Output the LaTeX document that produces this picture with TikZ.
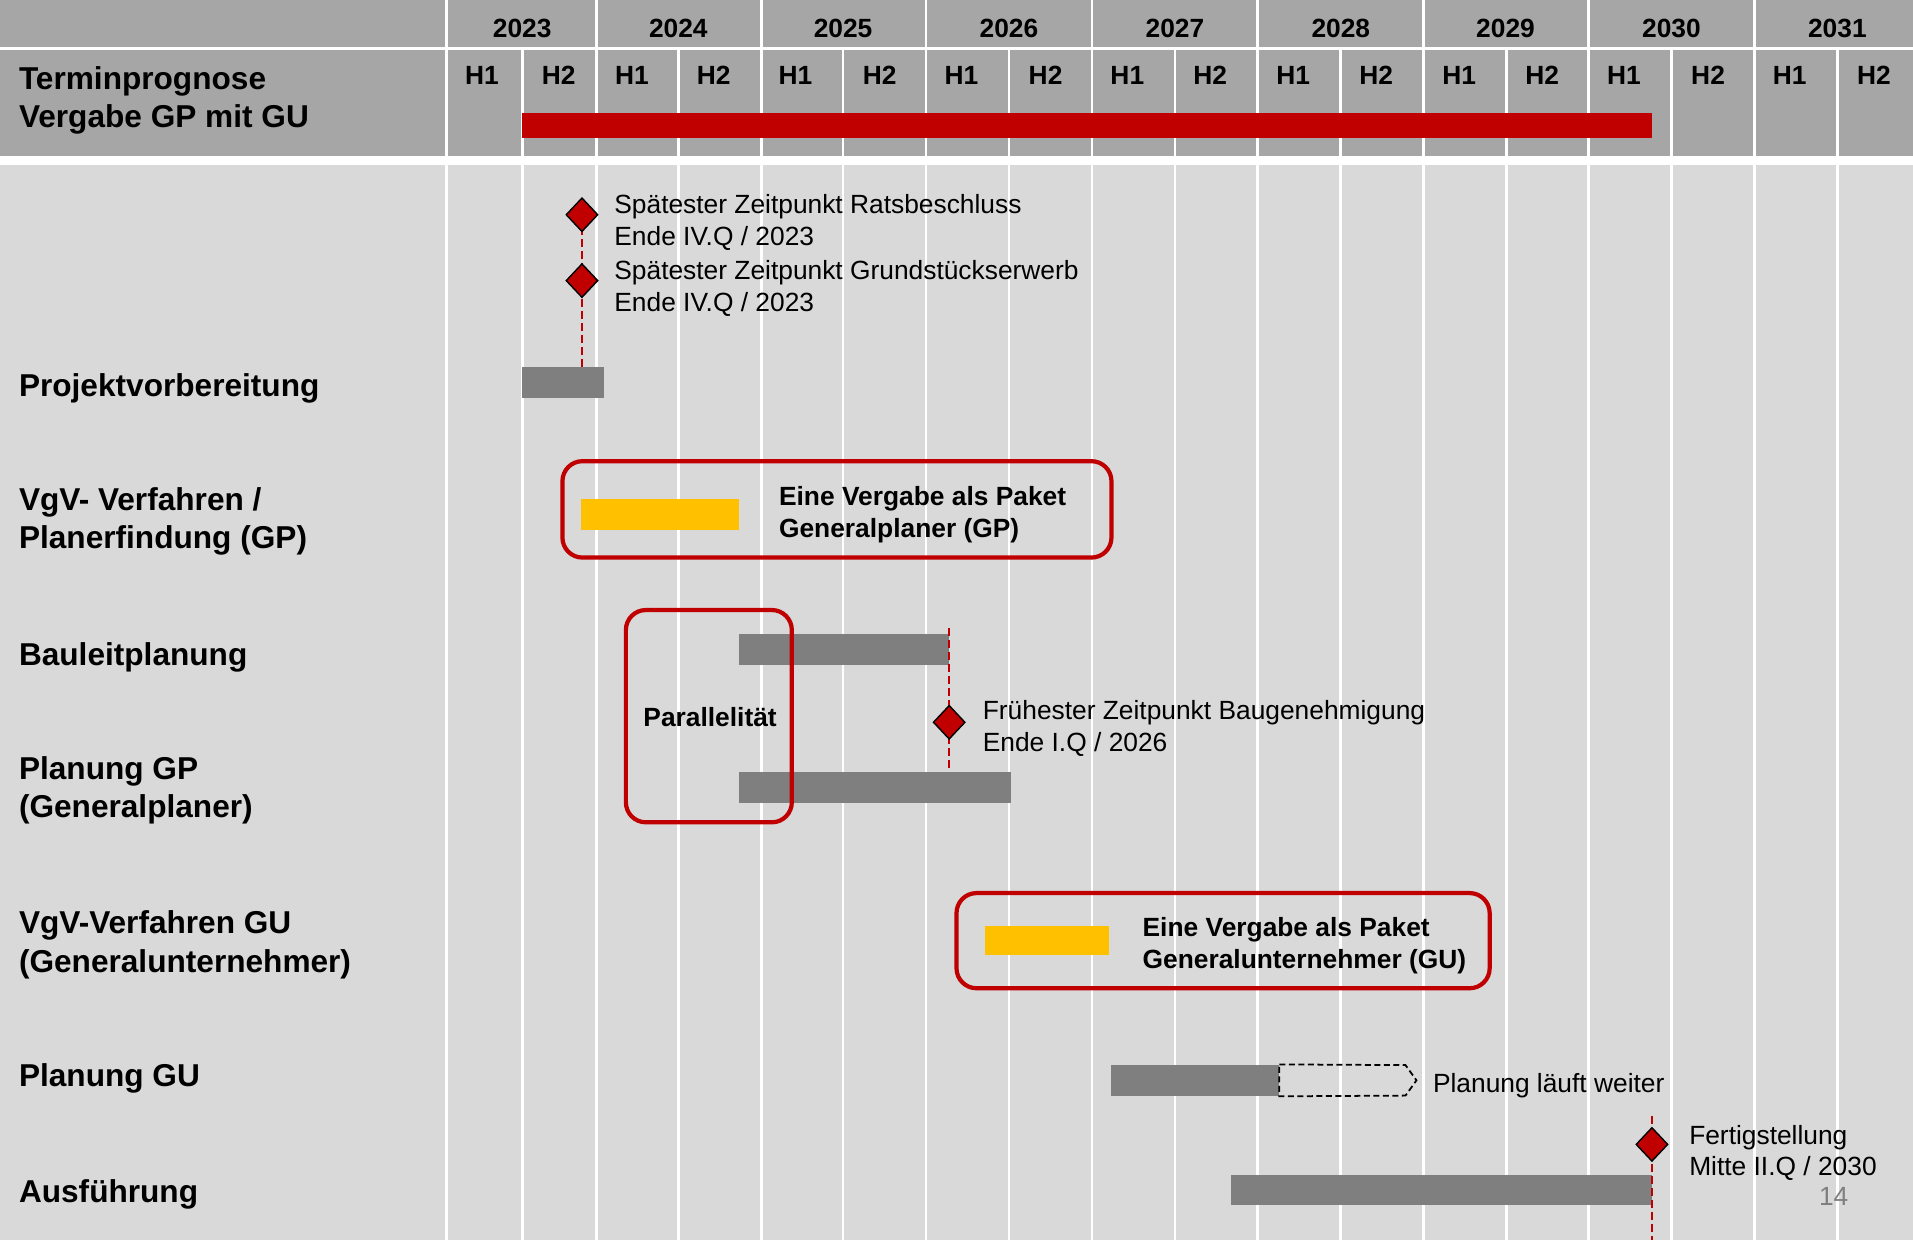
\documentclass[tikz,border=0pt]{standalone}
\usepackage{fontspec}
\setmainfont{Liberation Sans}
\usetikzlibrary{shapes.geometric,fit}

\definecolor{headgray}{HTML}{A6A6A6}
\definecolor{bodygray}{HTML}{D9D9D9}
\definecolor{bargray}{HTML}{7F7F7F}
\definecolor{darkred}{HTML}{C00000}
\definecolor{gold}{HTML}{FFC000}

\tikzset{
  rowlabel/.style={anchor=west, inner sep=0pt, align=left, font=\bfseries\fontsize{9}{10.9}\selectfont},
  note/.style={anchor=west, inner sep=0pt, align=left, font=\fontsize{7.5}{9.1}\selectfont},
  boxnote/.style={note, font=\bfseries\fontsize{7.5}{9.1}\selectfont},
  headlabel/.style={inner sep=0pt, font=\bfseries\fontsize{7.5}{9}\selectfont},
  graybar/.style={fill=bargray, inner sep=0pt},
  goldbar/.style={fill=gold, inner sep=0pt},
  redbox/.style={draw=darkred, line width=1.2pt, rounded corners=2mm, inner sep=0pt},
  milestone/.style={diamond, draw=black, line width=0.4pt, fill=darkred, inner sep=0pt,
    minimum width=3.2mm, minimum height=3.4mm},
  msline/.style={darkred, line width=0.6pt, dash pattern=on 0.8mm off 0.4mm},
  gridline/.style={white, line width=0.8pt},
}

\begin{document}
\begin{tikzpicture}[x=0.0122cm, y=-0.0122cm]
  \useasboundingbox (0,0) rectangle (1568,1016);
  % raster
  \fill[white] (0,0) rectangle (1568,1016);
  \fill[headgray] (0,0) rectangle (1568,128);
  \fill[bodygray] (0,135) rectangle (1568,1016);
  \draw[gridline] (0,39.5) -- (1568,39.5);
  \foreach \x in {366,489,624,759,895,1031,1167,1302,1438}
    \draw[gridline] (\x,0) -- (\x,39.5);
  \foreach \x in {366,428,489,556,624,691,759,827,895,963,1031,1099,1167,1235,1302,1370,1438,1506}
    \draw[gridline] (\x,39.5) -- (\x,1016);

  % kopfzeile
  \foreach \x/\yr in {428/2023,556/2024,691/2025,827/2026,963/2027,1099/2028,1234/2029,1370/2030,1506/2031}
    \node[headlabel] (y\yr) at (\x,23) {\yr};
  \foreach \x/\h [count=\i] in {395/1,458/2,518/1,585/2,652/1,721/2,788/1,857/2,924/1,992/2,
      1060/1,1128/2,1196/1,1264/2,1331/1,1400/2,1467/1,1536/2}
    \node[headlabel] (h\i) at (\x,62) {H\h};
  \node[rowlabel] (title) at (15,82) {Terminprognose\\Vergabe GP mit GU};
  \node[fill=darkred, inner sep=0pt, fit={(428,93) (1354,113)}] (gesamt) {};

  % zeilen
  \node[rowlabel] (lpv)  at (15,318)   {Projektvorbereitung};
  \node[rowlabel] (lvgp) at (15,427.5) {VgV- Verfahren /\\Planerfindung (GP)};
  \node[rowlabel] (lbl)  at (15,539)   {Bauleitplanung};
  \node[rowlabel] (lpgp) at (15,648)   {Planung GP\\(Generalplaner)};
  \node[rowlabel] (lvgu) at (15,774.5) {VgV-Verfahren GU\\(Generalunternehmer)};
  \node[rowlabel] (lpgu) at (15,884)   {Planung GU};
  \node[rowlabel] (laus) at (15,979)   {Ausführung};

  % balken
  \node[graybar, fit={(428,301) (495,326)}] (pv) {};
  \node[goldbar, fit={(476,409) (606,434)}] (vgp) {};
  \node[graybar, fit={(606,520) (778,545)}] (bl) {};
  \node[graybar, fit={(606,633) (829,658)}] (pgp) {};
  \node[goldbar, fit={(807,759) (909,783)}] (vgu) {};
  \node[graybar, fit={(911,873) (1048,898)}] (pgu) {};
  \node[graybar, fit={(1009,963) (1354,988)}] (aus) {};
  \draw[black, line width=0.5pt, dash pattern=on 0.6mm off 0.35mm]
    (pgu.north east) -- (1152,873) -- (1161,885.5) -- (1152,898) -- (pgu.south east) -- cycle;
  \node[note] (weiter) at (1174,890) {Planung läuft weiter};

  % rahmen
  \node[redbox, fit={(461,378) (911,457)}] (boxgp) {};
  \node[boxnote] (tgp) at (638,422) {Eine Vergabe als Paket\\Generalplaner (GP)};
  \node[redbox, fit={(513,500) (649,674)}] (boxpar) {};
  \node[headlabel] (tpar) at (582,588) {Parallelität};
  \node[redbox, fit={(784,732) (1221,810)}] (boxgu) {};
  \node[boxnote] (tgu) at (936,775.5) {Eine Vergabe als Paket\\Generalunternehmer (GU)};

  % meilensteine
  \coordinate (bgtop) at (778,515);
  \coordinate (fttop) at (1354,915);
  \coordinate (ftend) at (1354,1016);
  \draw[msline] (477,176) -- (477,230) -- (pv.north -| 477,0);
  \draw[msline] (bgtop) -- (bgtop |- pgp.north);
  \draw[msline] (fttop) -- (ftend);
  \node[milestone] (rat) at (477,176) {};
  \node[milestone] (grund) at (477,230) {};
  \node[milestone] (bg) at (778,592) {};
  \node[milestone] (ft) at (1354,938) {};
  \node[note] (trat) at (503,182.5) {Spätester Zeitpunkt Ratsbeschluss\\Ende IV.Q / 2023};
  \node[note] (tgrund) at (503,236.5) {Spätester Zeitpunkt Grundstückserwerb\\Ende IV.Q / 2023};
  \node[note] (tbg) at (805,597) {Frühester Zeitpunkt Baugenehmigung\\Ende I.Q / 2026};
  \node[note] (tft) at (1384,945) {Fertigstellung\\Mitte II.Q / 2030};

  \node[inner sep=0pt, text=bargray, font=\fontsize{7.5}{9}\selectfont] (seite) at (1503,981) {14};
\end{tikzpicture}
\end{document}
